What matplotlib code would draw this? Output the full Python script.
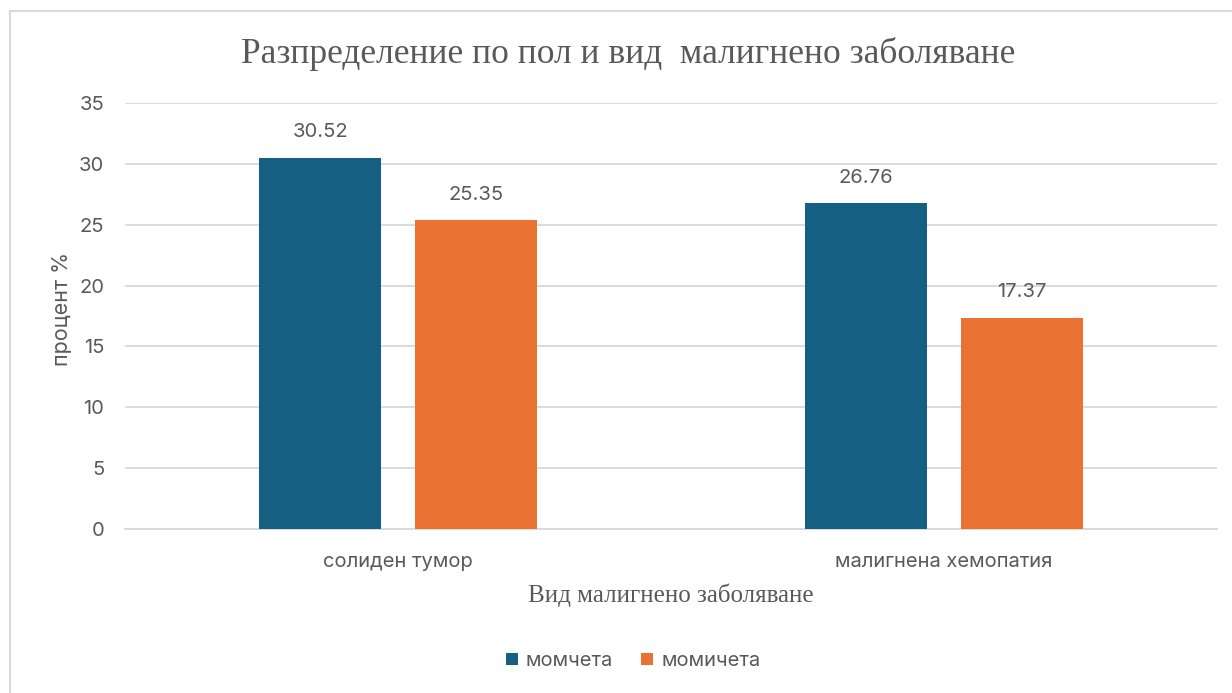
import matplotlib
matplotlib.use("Agg")
import matplotlib.pyplot as plt
from matplotlib.patches import Rectangle
import numpy as np

categories = ["солиден тумор", "малигнена хемопатия"]
series_names = ["момчета", "момичета"]
boys = [30.52, 26.76]
girls = [25.35, 17.37]
yticks = [0, 5, 10, 15, 20, 25, 30, 35]

title = "Разпределение по пол и вид  малигнено заболяване"
xlabel = "Вид малигнено заболяване"
ylabel = "процент %"

blue = "#156082"
orange = "#E97132"
text_gray = "#595959"
grid_gray = "#D9D9D9"
sans = ["Inter", "DejaVu Sans"]
serif = ["Liberation Serif", "DejaVu Serif"]

W, H = 1232, 693
fig = plt.figure(figsize=(W / 100, H / 100), dpi=100)
fig.patch.set_facecolor("white")

# outer chart frame
fig.add_artist(Rectangle((10 / W, -0.1), 1.2, 1 - 11 / H + 0.1,
                         transform=fig.transFigure, fill=False,
                         edgecolor="#D9D9D9", linewidth=1.5))

left, right, top, bottom = 125, 1217, 103, 529
ax = fig.add_axes([left / W, 1 - bottom / H, (right - left) / W, (bottom - top) / H])

x = np.arange(len(categories))
width = 0.2236
offset = 0.1428
b1 = ax.bar(x - offset, boys, width, color=blue, label=series_names[0], zorder=3)
b2 = ax.bar(x + offset, girls, width, color=orange, label=series_names[1], zorder=3)

for bars, vals in ((b1, boys), (b2, girls)):
    for r, v in zip(bars, vals):
        ax.annotate(f"{v:.2f}", (r.get_x() + r.get_width() / 2, v),
                    xytext=(0, 12), textcoords="offset points",
                    ha="center", va="bottom", fontsize=14.5, color=text_gray,
                    family=sans)

ax.set_xlim(-0.5, len(categories) - 0.5)
ax.set_ylim(0, 35)
ax.set_yticks(yticks)
ax.set_yticklabels([str(t) for t in yticks], family=sans, fontsize=14.5, color=text_gray)
ax.set_xticks(x)
ax.set_xticklabels(categories, family=sans, fontsize=14.5, color=text_gray)
ax.tick_params(axis="both", length=0)
ax.tick_params(axis="y", pad=15)
ax.tick_params(axis="x", pad=17)
ax.grid(axis="y", color=grid_gray, linewidth=1.3, zorder=0)
ax.set_axisbelow(True)
for s in ax.spines.values():
    s.set_visible(False)
ax.spines["bottom"].set_visible(True)
ax.spines["bottom"].set_color(grid_gray)
ax.spines["bottom"].set_linewidth(1.3)

ax.set_ylabel(ylabel, family=sans, fontsize=15.5, color=text_gray)
ax.yaxis.label.set_verticalalignment("center")
ax.yaxis.set_label_coords((62 - left) / (right - left), (bottom - 309) / (bottom - top))
ax.set_xlabel(xlabel, family=serif, fontsize=18, color=text_gray, labelpad=9)

fig.text(628 / W, 1 - 54 / H, title, ha="center", va="center",
         family=serif, fontsize=25.5, color=text_gray)

leg = fig.legend(handles=[b1, b2], labels=series_names, loc="center",
                 bbox_to_anchor=(633 / W, 1 - 661 / H), ncol=2, frameon=False,
                 prop={"family": sans, "size": 14.5}, handlelength=0.6,
                 handleheight=0.6, handletextpad=0.4, columnspacing=1.4)
for t in leg.get_texts():
    t.set_color(text_gray)

fig.savefig("out.png", dpi=100, facecolor="white")
